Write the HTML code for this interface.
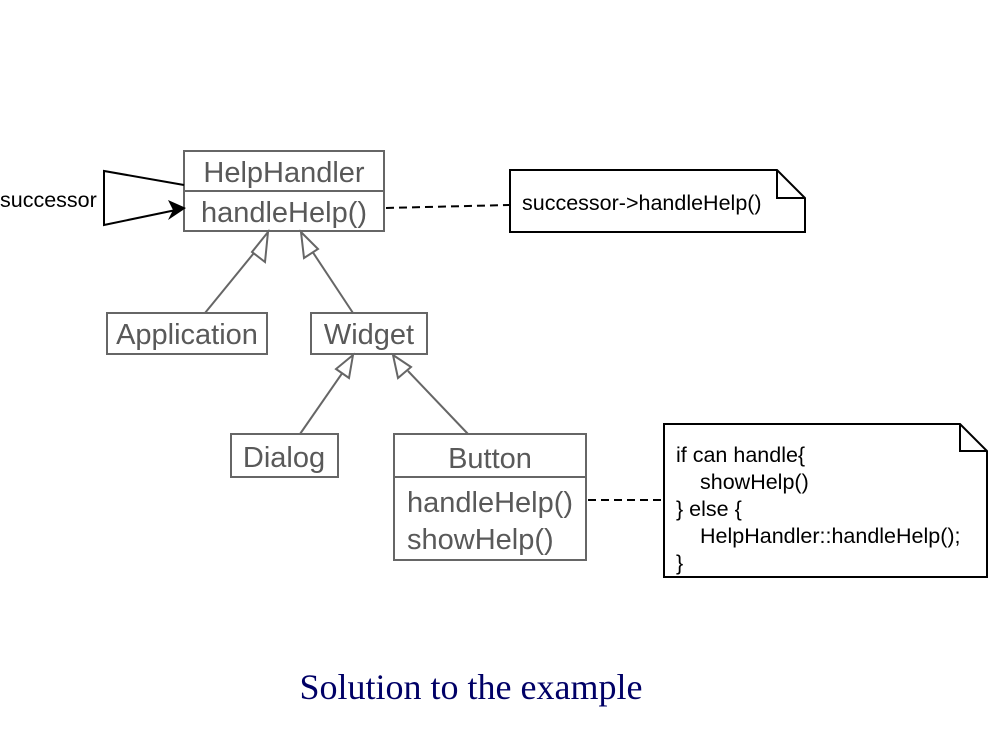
<!DOCTYPE html>
<html><head><style>body{margin:0;background:#fff}</style></head><body>
<svg width="995" height="736" xmlns="http://www.w3.org/2000/svg" style="display:block">
<g fill="#fff" stroke="#666" stroke-width="2">
<rect x="184" y="151" width="200" height="80"/><line x1="184" y1="191" x2="384" y2="191"/>
<rect x="107" y="313" width="160" height="41"/>
<rect x="311" y="313" width="116" height="41"/>
<rect x="231" y="434" width="107" height="43"/>
<rect x="394" y="434" width="192" height="126"/><line x1="394" y1="477" x2="586" y2="477"/>
<line x1="205" y1="313" x2="258" y2="248"/>
<polygon points="268,232 252,252 265,262"/>
<line x1="353" y1="313" x2="312" y2="251"/>
<polygon points="301,232 304,258 318,249"/>
<line x1="300" y1="434" x2="343" y2="372"/>
<polygon points="353,355 336,369 349,378"/>
<line x1="468" y1="434" x2="408" y2="371"/>
<polygon points="393,355 398,378 411,367"/>
</g>
<g font-family="Liberation Sans, sans-serif" font-size="29" fill="#595959" text-anchor="middle">
<text x="284" y="182">HelpHandler</text>
<text x="284" y="222">handleHelp()</text>
<text x="187" y="344">Application</text>
<text x="369" y="344">Widget</text>
<text x="284" y="467">Dialog</text>
<text x="490" y="468">Button</text>
<text x="407" y="512" text-anchor="start">handleHelp()</text>
<text x="407" y="549" text-anchor="start">showHelp()</text>
</g>
<g fill="none" stroke="#000" stroke-width="2">
<polyline points="184,185 104,171 104,225 176,210"/>
<line x1="386" y1="208" x2="510" y2="205" stroke-dasharray="8,5"/>
<line x1="588" y1="500" x2="664" y2="500" stroke-dasharray="8,5"/>
<path d="M510,170 H777 L805,198 V232 H510 Z M777,170 V198 H805"/>
<path d="M664,424 H960 L987,451 V577 H664 Z M960,424 V451 H987"/>
</g>
<polygon points="186,208 168,200 173,210 168,220" fill="#000"/>
<g font-family="Liberation Sans, sans-serif" font-size="21.5" fill="#000">
<text x="0" y="207">successor</text>
<text x="522" y="210">successor-&gt;handleHelp()</text>
<text x="676" y="462">if can handle{</text>
<text x="700" y="489">showHelp()</text>
<text x="676" y="516">} else {</text>
<text x="700" y="543">HelpHandler::handleHelp();</text>
<text x="676" y="570">}</text>
</g>
<text x="471" y="699" text-anchor="middle" font-family="Liberation Serif, serif" font-size="36" fill="#000066">Solution to the example</text>
</svg>
</body></html>
